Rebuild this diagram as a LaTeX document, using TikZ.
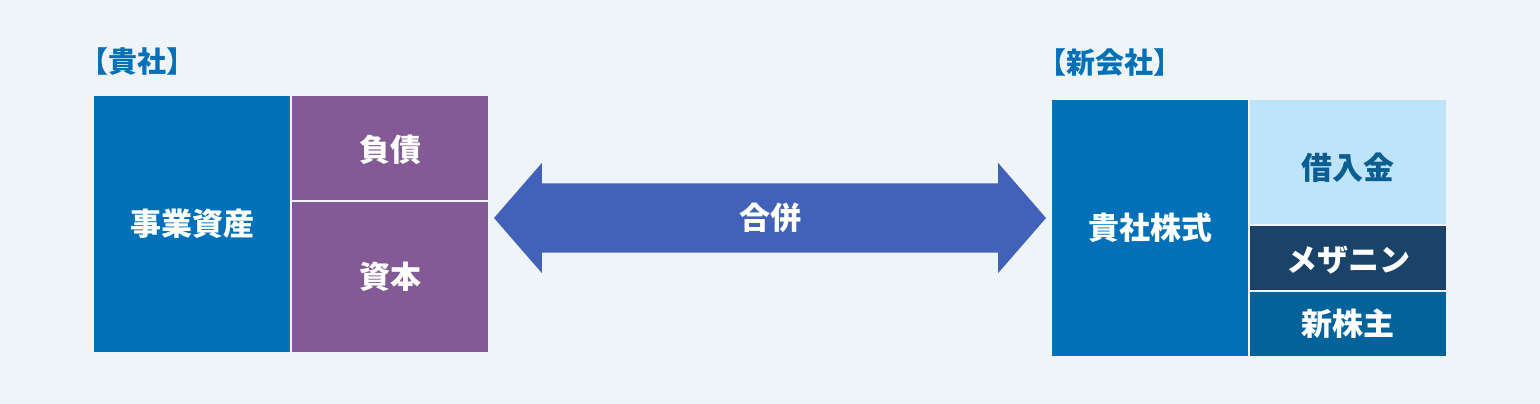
\documentclass[tikz,border=0pt]{standalone}
\usepackage{fontspec}
\newfontfamily\jpfont{Noto Sans CJK JP}
\usepackage{tikz}
\usetikzlibrary{positioning, shapes.arrows}
\definecolor{bgcol}{HTML}{EFF4F9}
\definecolor{coblue}{HTML}{0071B8}
\definecolor{copurple}{HTML}{845A96}
\definecolor{arrowblue}{HTML}{4262BA}
\definecolor{lightblue}{HTML}{BEE4FC}
\definecolor{navy}{HTML}{1B4268}
\definecolor{midblue}{HTML}{02629A}
\definecolor{loantext}{HTML}{0A5E92}
\newcommand{\lowered}[2]{\raisebox{-#1}[\dimexpr\height+#1\relax][\dimexpr\depth+#1\relax]{#2}}

\begin{document}
\begin{tikzpicture}[x=1pt, y=-1pt,
    block/.style={fill=#1, inner sep=0pt, outer sep=0pt, minimum width=196pt,
        text=white, font=\jpfont\bfseries\fontsize{31}{33}\selectfont},
    title/.style={inner sep=0pt, text=coblue, font=\jpfont\bfseries\fontsize{29}{31}\selectfont}]
    \fill[bgcol] (0,0) rectangle (1540,404);
    \useasboundingbox (0,0) rectangle (1540,404);
    % left company
    \node[block=coblue, minimum height=256pt, anchor=north west] (bizAsset) at (94,96) {事業資産};
    \node[block=copurple, minimum height=104pt, below right=0pt and 2pt of bizAsset.north east] (debt) {\lowered{2pt}{負債}};
    \node[block=copurple, minimum height=150pt, below=2pt of debt] (capital) {資本};
    \node[title, above right=20pt and -14.5pt of bizAsset.north west] (oldCo) {【貴社】};
    % new company
    \node[block=coblue, minimum height=256pt, anchor=north west] (stock) at (1052,100) {貴社株式};
    \node[block=lightblue, text=loantext, minimum height=124pt, below right=0pt and 2pt of stock.north east] (loan) {\lowered{6pt}{借入金}};
    \node[block=navy, minimum height=64pt, below=2pt of loan] (mezz) {\lowered{2pt}{メザニン}};
    \node[block=midblue, minimum height=64pt, below=2pt of mezz] (newShare) {新株主};
    \node[title, above right=24pt and -14.5pt of stock.north west] (newCo) {【新会社】};
    % merger arrow
    \node[double arrow, fill=arrowblue, inner xsep=0pt, inner ysep=17pt, minimum height=552pt, minimum width=110pt,
        double arrow head extend=19pt, double arrow tip angle=98, text=white,
        font=\jpfont\bfseries\fontsize{31}{33}\selectfont] (merge) at (770,218) {合併};
\end{tikzpicture}
\end{document}
